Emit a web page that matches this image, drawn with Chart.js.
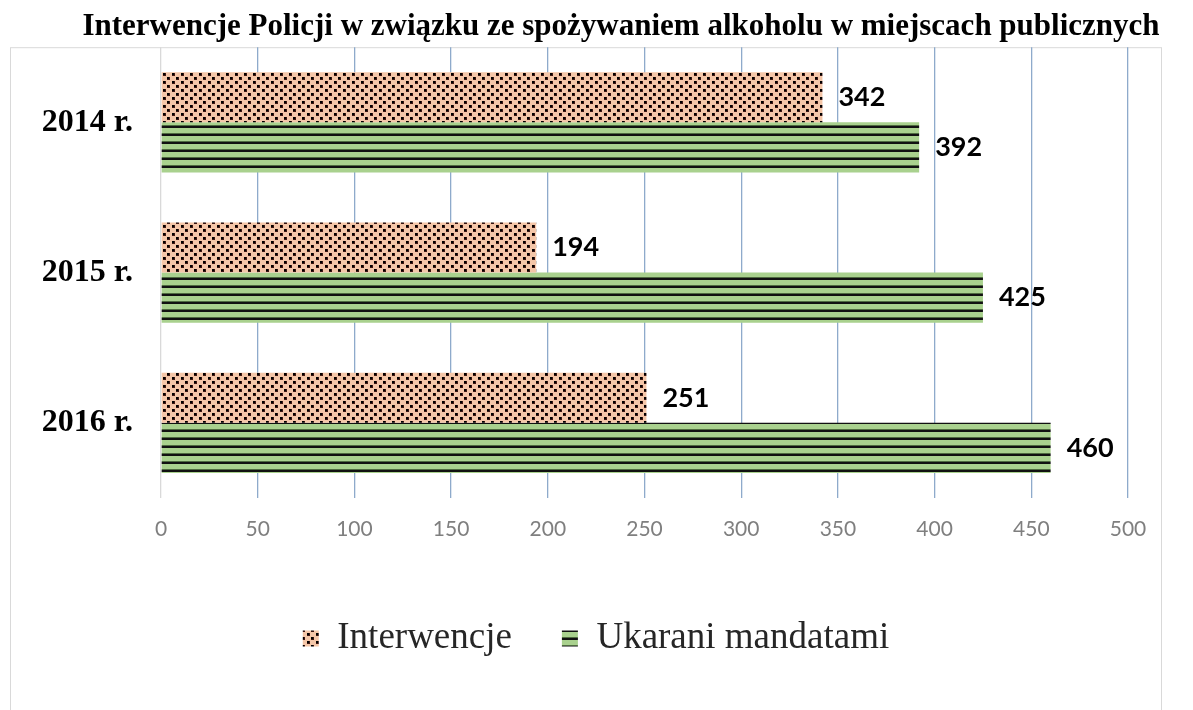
<!DOCTYPE html>
<html>
<head>
<meta charset="utf-8">
<script src="https://cdn.jsdelivr.net/npm/chart.js@4.4.0/dist/chart.umd.min.js"></script>
<style>
  html, body { margin: 0; padding: 0; background: #fff; }
  #wrap { width: 1193px; height: 710px; position: relative; }
</style>
</head>
<body>
<div id="wrap"><canvas id="canvas" width="1193" height="710"></canvas></div>
<script>
// data
const categories = ['2014 r.', '2015 r.', '2016 r.'];
const seriesNames = ['Interwencje', 'Ukarani mandatami'];
const interwencje = [342, 194, 251];
const ukarani = [392, 425, 460];
const xMin = 0, xMax = 500, xStep = 50;
const chartTitle = 'Interwencje Policji w związku ze spożywaniem alkoholu w miejscach publicznych';

// dotted fill (peach with black dots)
function dotPattern(){
    const c = document.createElement('canvas');
    c.width = 9; c.height = 8;
    const g = c.getContext('2d');
    g.fillStyle = '#f4c6a8';
    g.fillRect(0, 0, 9, 8);
    g.fillStyle = '#3a1410';
    g.fillRect(1, 1, 3, 3);
    g.fillRect(5, 5, 3, 3);
    g.fillStyle = '#000';
    g.fillRect(1, 1, 2, 2);
    g.fillRect(5, 5, 2, 2);
    return g.createPattern(c, 'repeat');
}

// horizontal stripes (green with black lines)
function stripePattern(){
    const c = document.createElement('canvas');
    c.width = 4; c.height = 8;
    const g = c.getContext('2d');
    g.fillStyle = '#a9d18e';
    g.fillRect(0, 0, 4, 8);
    g.fillStyle = '#4f6b40';
    g.fillRect(0, 5, 4, 1);
    g.fillStyle = '#111';
    g.fillRect(0, 6, 4, 2);
    return g.createPattern(c, 'repeat');
}

const ctx = document.getElementById('canvas').getContext('2d');

// frame + title
const framePlugin = {
    id: 'frame',
    beforeDraw(chart){
        const c = chart.ctx;
        c.save();
        c.fillStyle = '#fff';
        c.fillRect(0, 0, chart.width, chart.height);
        c.strokeStyle = '#d9d9d9';
        c.lineWidth = 1;
        c.strokeRect(10.5, chart.chartArea.top + 0.5, 1151, 700);
        c.fillStyle = '#000';
        c.font = 'bold 31px "Liberation Serif"';
        c.textAlign = 'center';
        c.textBaseline = 'middle';
        c.fillText(chartTitle, 621, 27);
        c.restore();
    }
};

// value labels next to the bars
const valuePlugin = {
    id: 'values',
    afterDatasetsDraw(chart){
        const c = chart.ctx;
        c.save();
        c.fillStyle = '#000';
        c.font = 'bold 27px Lato';
        c.textAlign = 'left';
        c.textBaseline = 'middle';
        chart.data.datasets.forEach((ds, i) => {
            chart.getDatasetMeta(i).data.forEach((bar, j) => {
                c.fillText(ds.data[j], bar.x + 16, bar.y);
            });
        });
        c.restore();
    }
};

const myChart = new Chart(ctx, {
    type: 'bar',
    data: {
        labels: categories,
        datasets: [{
            label: seriesNames[0],
            data: interwencje,
            backgroundColor: dotPattern(),
            borderWidth: 0
        }, {
            label: seriesNames[1],
            data: ukarani,
            backgroundColor: stripePattern(),
            borderWidth: 0
        }]
    },
    options: {
        indexAxis: 'y',
        responsive: false,
        animation: false,
        categoryPercentage: 0.667,
        barPercentage: 1,
        layout: { padding: { left: 32, right: 33, top: 46, bottom: 43 } },
        plugins: {
            title: { display: false },
            tooltip: { enabled: false },
            legend: {
                position: 'bottom',
                labels: {
                    font: { family: '"Liberation Serif"', size: 37 },
                    color: '#262626',
                    boxWidth: 16,
                    boxHeight: 16,
                    padding: 50
                }
            }
        },
        scales: {
            x: {
                min: xMin,
                max: xMax,
                ticks: {
                    stepSize: xStep,
                    color: '#7f7f7f',
                    font: { family: 'Lato', size: 21 },
                    padding: 19
                },
                grid: {
                    color: c => c.tick && c.tick.value === 0 ? '#d9d9d9' : '#8eaacb',
                    lineWidth: 1.3,
                    drawTicks: false
                },
                border: { display: false },
                afterFit(scale){ scale.height = 72; }
            },
            y: {
                ticks: {
                    color: '#000',
                    font: { family: '"Liberation Serif"', size: 32, weight: 'bold' },
                    padding: 28
                },
                grid: { display: false, drawTicks: false },
                border: { display: false },
                afterFit(scale){ scale.width = 129; }
            },
            // empty right-hand axis, only keeps room so the legend stays centred on the page
            yRight: {
                type: 'category',
                position: 'right',
                ticks: { display: false },
                grid: { display: false, drawTicks: false },
                border: { display: false },
                afterFit(scale){ scale.width = 32; }
            }
        }
    },
    plugins: [framePlugin, valuePlugin]
});
</script>
</body>
</html>
